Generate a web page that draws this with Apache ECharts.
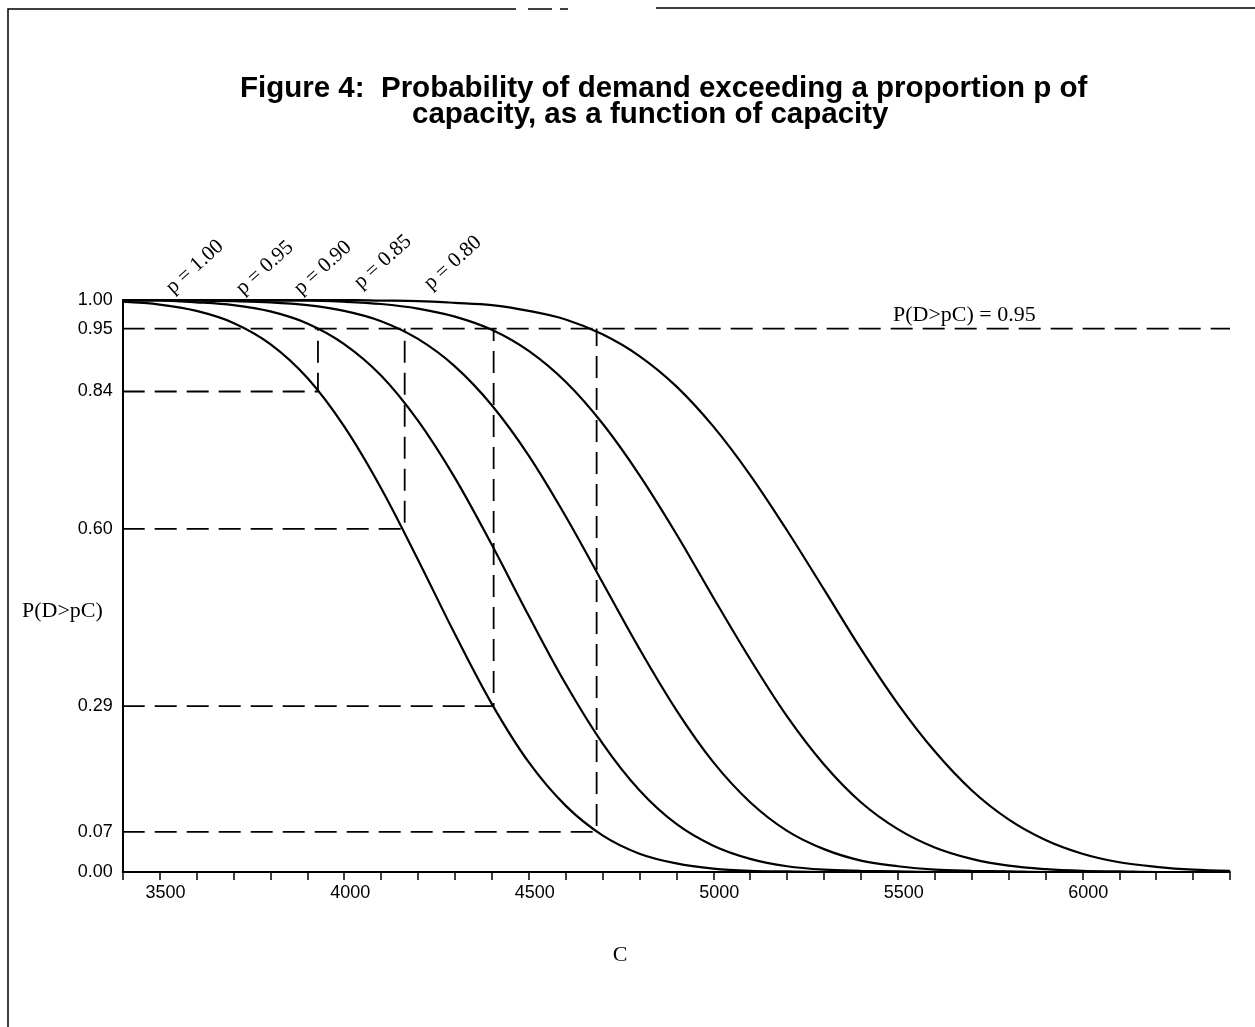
<!DOCTYPE html>
<html>
<head>
<meta charset="utf-8">
<title>Figure 4</title>
<script src="https://cdn.jsdelivr.net/npm/echarts@6/dist/echarts.min.js"></script>
<style>
    html, body { margin: 0; padding: 0; background: #fff; }
    #chart { width: 1255px; height: 1027px; }
</style>
</head>
<body>
<div id="chart"></div>
<script>
// capacity C (x axis), one point every 100
var capacity = [3400, 3500, 3600, 3700, 3800, 3900, 4000, 4100, 4200, 4300, 4400,
    4500, 4600, 4700, 4800, 4900, 5000, 5100, 5200, 5300, 5400,
    5500, 5600, 5700, 5800, 5900, 6000, 6100, 6200, 6300, 6400];

// P(D>pC), one array per p
var probP100 = [0.997, 0.992, 0.981, 0.960, 0.923, 0.864, 0.779, 0.671, 0.546, 0.416, 0.294,
    0.192, 0.116, 0.064, 0.032, 0.015, 0.006, 0.002, 0.001, 0, 0,
    0, 0, 0, 0, 0, 0, 0, 0, 0, 0];
var probP95 = [0.999, 0.999, 0.996, 0.991, 0.980, 0.959, 0.923, 0.868, 0.789, 0.689, 0.572,
    0.448, 0.329, 0.225, 0.143, 0.084, 0.046, 0.023, 0.010, 0.004, 0.002,
    0.001, 0, 0, 0, 0, 0, 0, 0, 0, 0];
var probP90 = [1.0, 1.0, 0.999, 0.998, 0.996, 0.991, 0.981, 0.963, 0.932, 0.884, 0.816,
    0.728, 0.622, 0.506, 0.390, 0.283, 0.192, 0.122, 0.072, 0.040, 0.020,
    0.010, 0.004, 0.002, 0.001, 0, 0, 0, 0, 0, 0];
var probP85 = [1.0, 1.0, 1.0, 1.0, 0.999, 0.999, 0.997, 0.993, 0.985, 0.971, 0.948,
    0.911, 0.857, 0.784, 0.694, 0.591, 0.480, 0.372, 0.272, 0.188, 0.122,
    0.075, 0.043, 0.023, 0.011, 0.005, 0.002, 0.001, 0, 0, 0];
var probP80 = [1.0, 1.0, 1.0, 1.0, 1.0, 1.0, 1.0, 0.999, 0.998, 0.995, 0.991,
    0.981, 0.966, 0.940, 0.902, 0.849, 0.779, 0.694, 0.597, 0.494, 0.390,
    0.294, 0.211, 0.143, 0.092, 0.056, 0.032, 0.017, 0.009, 0.004, 0.002];

var pNames = ['p = 1.00', 'p = 0.95', 'p = 0.90', 'p = 0.85', 'p = 0.80'];

// tick labels
var xTickLabels = [3500, 4000, 4500, 5000, 5500, 6000];
var yTickLabels = [0, 0.07, 0.29, 0.60, 0.84, 0.95, 1.00];

// dashed guide lines
var refLevel = 0.95;
var refCapacity = [3929, 4164, 4405, 4684];
var refProb = [0.84, 0.60, 0.29, 0.07];

(function () {

    var xMin = 3400, xMax = 6400;
    var serif = '"Liberation Serif", "Times New Roman", serif';
    var sans = '"Liberation Sans", Arial, Helvetica, sans-serif';

    function pairs(ys) {
        var out = [];
        for (var i = 0; i < capacity.length; i++) {
            out.push([capacity[i], ys[i]]);
        }
        return out;
    }

    function initChart() {
        var dash = {color: '#000', width: 1.8, type: [22, 10]};
        var series = [];

        // 0.95 line across the plot
        series.push({
            type: 'line', silent: true, showSymbol: false, z: 1,
            lineStyle: dash,
            data: [[xMin, refLevel], [xMax, refLevel]]
        });
        // horizontal from the axis, then up to the 0.95 line
        for (var i = 0; i < refCapacity.length; i++) {
            series.push({
                type: 'line', silent: true, showSymbol: false, z: 1,
                lineStyle: dash,
                data: [[xMin, refProb[i]], [refCapacity[i], refProb[i]], [refCapacity[i], refLevel]]
            });
        }

        var curves = [probP100, probP95, probP90, probP85, probP80];
        for (var k = 0; k < curves.length; k++) {
            series.push({
                name: pNames[k],
                type: 'line',
                showSymbol: false,
                smooth: 0.35,
                z: 3,
                lineStyle: {color: '#000', width: 2.2},
                data: pairs(curves[k])
            });
        }

        // rotated curve names over the top
        var pLabelPos = [[176, 298], [246, 299], [304, 299], [364, 293], [434, 294]];
        var graphics = [
            // scanned page frame
            {type: 'polyline', shape: {points: [[8, 1027], [8, 9], [516, 9]]},
                style: {stroke: '#000', lineWidth: 1.5, fill: null}},
            {type: 'line', shape: {x1: 528, y1: 9, x2: 552, y2: 9}, style: {stroke: '#000', lineWidth: 1.5}},
            {type: 'line', shape: {x1: 560, y1: 9, x2: 568, y2: 9}, style: {stroke: '#000', lineWidth: 1.5}},
            {type: 'line', shape: {x1: 656, y1: 8, x2: 1255, y2: 8}, style: {stroke: '#000', lineWidth: 1.5}},
            // title
            {type: 'text', x: 240, y: 89, style: {
                text: 'Figure 4:  Probability of demand exceeding a proportion p of',
                fontFamily: sans, fontWeight: 'bold', fontSize: 29.5, fill: '#000', verticalAlign: 'middle'}},
            {type: 'text', x: 412, y: 115, style: {
                text: 'capacity, as a function of capacity',
                fontFamily: sans, fontWeight: 'bold', fontSize: 29.5, fill: '#000', verticalAlign: 'middle'}},
            // axis names
            {type: 'text', x: 22, y: 611, style: {
                text: 'P(D>pC)', fontFamily: serif, fontSize: 22, fill: '#000', verticalAlign: 'middle'}},
            {type: 'text', x: 620, y: 955, style: {
                text: 'C', fontFamily: serif, fontSize: 22, fill: '#000', align: 'center', verticalAlign: 'middle'}},
            {type: 'text', x: 893, y: 315, style: {
                text: 'P(D>pC) = 0.95', fontFamily: serif, fontSize: 22, fill: '#000', verticalAlign: 'middle'}}
        ];
        for (var j = 0; j < pNames.length; j++) {
            graphics.push({
                type: 'text',
                x: pLabelPos[j][0],
                y: pLabelPos[j][1],
                rotation: 42 * Math.PI / 180,
                style: {text: pNames[j], fontFamily: serif, fontSize: 21, fill: '#000', verticalAlign: 'bottom'}
            });
        }

        var option = {
            backgroundColor: '#fff',
            animation: false,
            grid: {left: 122.7, right: 25, top: 300, bottom: 155},
            xAxis: {
                type: 'value',
                min: xMin,
                max: xMax,
                interval: 100,
                axisLine: {lineStyle: {color: '#000', width: 2}},
                axisTick: {show: true, length: 8, lineStyle: {color: '#000', width: 1.5}},
                axisLabel: {
                    customValues: xTickLabels,
                    color: '#000', fontSize: 18, fontFamily: sans,
                    margin: 12, padding: [0, 0, 0, 12],
                    formatter: function (v) { return String(v); }
                },
                splitLine: {show: false}
            },
            yAxis: {
                type: 'value',
                min: 0,
                max: 1,
                axisLine: {show: true, lineStyle: {color: '#000', width: 2}},
                axisTick: {show: false},
                axisLabel: {
                    customValues: yTickLabels,
                    color: '#000', fontSize: 18, fontFamily: sans, margin: 10,
                    formatter: function (v) { return v.toFixed(2); }
                },
                splitLine: {show: false}
            },
            graphic: graphics,
            series: series
        };

        var myChart = echarts.init(document.getElementById('chart'));
        myChart.setOption(option);
    }

    initChart();
})();
</script>
</body>
</html>
